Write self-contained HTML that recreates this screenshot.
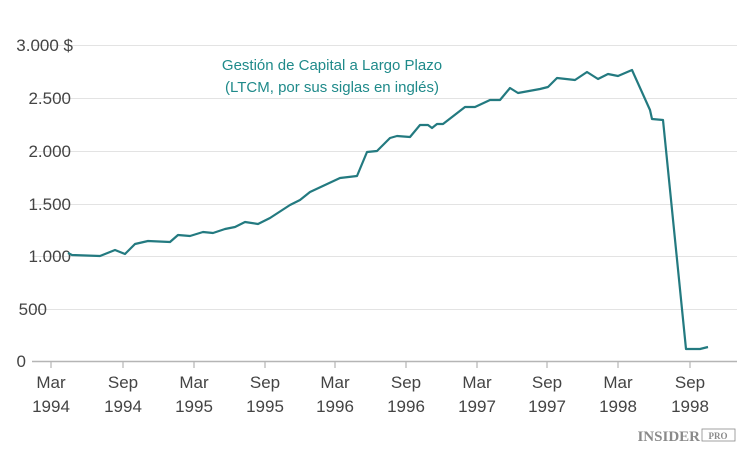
<!DOCTYPE html>
<html><head><style>
body{margin:0;background:#fff;}
svg{display:block;font-family:"Liberation Sans",sans-serif;}
</style></head><body>
<svg width="750" height="455" viewBox="0 0 750 455">
<g stroke="#e3e3e3" stroke-width="1">
<line x1="32" y1="45.5" x2="737" y2="45.5"/>
<line x1="32" y1="98.5" x2="737" y2="98.5"/>
<line x1="32" y1="151.5" x2="737" y2="151.5"/>
<line x1="32" y1="204.5" x2="737" y2="204.5"/>
<line x1="32" y1="256.5" x2="737" y2="256.5"/>
<line x1="32" y1="309.5" x2="737" y2="309.5"/>
</g>
<line x1="32" y1="361.5" x2="737" y2="361.5" stroke="#b5b5b5" stroke-width="1.5"/>
<g stroke="#b5b5b5" stroke-width="1.2">
<line x1="51" y1="361" x2="51" y2="368"/><line x1="123" y1="361" x2="123" y2="368"/>
<line x1="194" y1="361" x2="194" y2="368"/><line x1="265" y1="361" x2="265" y2="368"/>
<line x1="335" y1="361" x2="335" y2="368"/><line x1="406" y1="361" x2="406" y2="368"/>
<line x1="477" y1="361" x2="477" y2="368"/><line x1="547" y1="361" x2="547" y2="368"/>
<line x1="618" y1="361" x2="618" y2="368"/><line x1="690" y1="361" x2="690" y2="368"/>
</g>
<g fill="#444" font-size="17" text-anchor="end">
<text x="73" y="51">3.000 $</text>
<text x="71" y="104">2.500</text>
<text x="71" y="157">2.000</text>
<text x="71" y="210">1.500</text>
<text x="71" y="262">1.000</text>
<text x="47" y="315">500</text>
<text x="26" y="367">0</text>
</g>
<g fill="#444" font-size="17" text-anchor="middle">
<text x="51" y="388">Mar</text><text x="51" y="412">1994</text>
<text x="123" y="388">Sep</text><text x="123" y="412">1994</text>
<text x="194" y="388">Mar</text><text x="194" y="412">1995</text>
<text x="265" y="388">Sep</text><text x="265" y="412">1995</text>
<text x="335" y="388">Mar</text><text x="335" y="412">1996</text>
<text x="406" y="388">Sep</text><text x="406" y="412">1996</text>
<text x="477" y="388">Mar</text><text x="477" y="412">1997</text>
<text x="547" y="388">Sep</text><text x="547" y="412">1997</text>
<text x="618" y="388">Mar</text><text x="618" y="412">1998</text>
<text x="690" y="388">Sep</text><text x="690" y="412">1998</text>
</g>
<g fill="#1f8a8a" font-size="15" text-anchor="middle">
<text x="332" y="70">Gestión de Capital a Largo Plazo</text>
<text x="332" y="92">(LTCM, por sus siglas en inglés)</text>
</g>
<polyline fill="none" stroke="#237a80" stroke-width="2.2" stroke-linejoin="round" points="68,253 72,255 100,256 115,250 125,254 135,244 148,241 170,242 178,235 190,236 203,232 213,233 225,229 235,227 245,222 258,224 270,218 290,205 300,200 310,192 340,178 357,176 367,152 377,151 390,138 397,136 410,137 420,125 428,125 432,128 437,124 443,124 465,107 475,107 490,100 500,100 510,88 518,93 540,89 548,87 557,78 575,80 587,72 598,79 608,74 618,76 632,70 650,110 652,119 663,120 686,349 700,349 708,347"/>
<text x="700" y="441" fill="#8a8a8a" font-size="15" font-weight="bold" font-family="Liberation Serif,serif" text-anchor="end">INSIDER</text>
<rect x="702" y="429" width="33" height="12" fill="#fff" stroke="#8a8a8a" stroke-width="0.8"/>
<text x="718" y="439" fill="#8a8a8a" font-size="9" font-weight="bold" font-family="Liberation Serif,serif" text-anchor="middle">PRO</text>
</svg>
</body></html>
